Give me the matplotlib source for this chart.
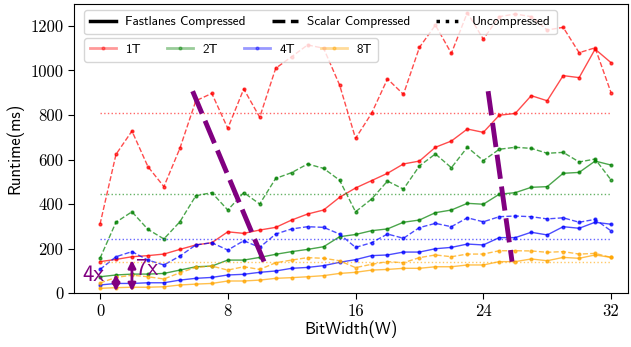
import numpy as np
import matplotlib
matplotlib.use("Agg")
import matplotlib.pyplot as plt
from matplotlib.lines import Line2D

plt.rcParams['font.family'] = ['cmss10', 'DejaVu Sans']
plt.rcParams['axes.formatter.use_mathtext'] = False

bitwidth = np.arange(33)
threads = ["1T", "2T", "4T", "8T"]
colors = ["red", "green", "blue", "orange"]

# runtime (ms) per bitwidth, Fastlanes compressed
fast = [
    [141, 151, 163, 168, 175, 196, 216, 226, 275, 268, 283, 295, 328, 355, 373, 430, 472,
     505, 538, 580, 593, 655, 683, 737, 722, 799, 807, 887, 864, 977, 968, 1096, 1035],
    [73, 81, 85, 85, 88, 103, 118, 121, 148, 148, 160, 174, 186, 196, 208, 253, 263,
     280, 288, 318, 328, 361, 373, 403, 399, 444, 451, 475, 478, 538, 542, 593, 575],
    [36, 43, 43, 46, 46, 58, 66, 70, 81, 84, 93, 99, 111, 115, 123, 138, 150,
     168, 171, 184, 184, 199, 205, 220, 216, 249, 249, 273, 261, 298, 291, 318, 309],
    [21, 24, 26, 26, 28, 36, 40, 43, 54, 54, 58, 66, 69, 73, 78, 88, 93,
     103, 106, 111, 111, 118, 118, 126, 126, 141, 141, 153, 145, 160, 156, 171, 160],
]
# scalar compressed
scalar = [
    [309, 623, 728, 568, 478, 650, 864, 897, 740, 917, 790, 1010, 1062, 1115, 1100, 935, 695,
     807, 962, 893, 1104, 1204, 1077, 1260, 1141, 1242, 1254, 1242, 1182, 1194, 1080, 1102, 900],
    [156, 318, 365, 286, 243, 320, 437, 451, 373, 451, 400, 515, 541, 580, 560, 507, 365,
     422, 503, 467, 571, 625, 563, 655, 595, 646, 655, 650, 628, 632, 589, 602, 508],
    [106, 163, 186, 148, 126, 166, 216, 226, 193, 235, 205, 265, 288, 298, 295, 265, 205,
     226, 265, 246, 294, 313, 298, 338, 320, 343, 346, 343, 333, 338, 318, 331, 279],
    [45, 70, 80, 73, 63, 91, 115, 121, 103, 118, 106, 136, 148, 159, 156, 145, 114,
     129, 141, 136, 159, 171, 163, 175, 175, 190, 190, 189, 183, 186, 175, 178, 160],
]
# uncompressed (constant)
uncompressed = [809, 444, 241, 139]

# purple guide lines (x0, y0, x1, y1)
guides = [(5.8, 907, 10.3, 136), (24.3, 907, 25.8, 141)]
# speedup arrows (x, y_low, y_high, label, label_x, label_y)
speedups = [(1, 8, 85, "4x", -0.4, 80), (2, 8, 148, "7x", 2.95, 110)]

fig = plt.figure(figsize=(6.31, 3.47), dpi=100)
ax = fig.add_axes([0.118, 0.1556, 0.877, 0.8336])

for i in range(4):
    ax.plot(bitwidth, fast[i], '-', color=colors[i], alpha=0.7, lw=1,
            marker='o', ms=2)
    ax.plot(bitwidth, scalar[i], '--', color=colors[i], alpha=0.7, lw=1,
            marker='o', ms=2)
    ax.plot([bitwidth[0], bitwidth[-1]], [uncompressed[i]] * 2, ':',
            color=colors[i], alpha=0.6, lw=1)

for x0, y0, x1, y1 in guides:
    ax.plot([x0, x1], [y0, y1], color='purple', lw=3.5,
            linestyle=(0, (5, 1.6)), zorder=5)

for x, ylo, yhi, lab, tx, ty in speedups:
    ax.annotate('', xy=(x, ylo), xytext=(x, yhi),
                arrowprops=dict(arrowstyle='<|-|>', color='purple', lw=2,
                                mutation_scale=11, shrinkA=0, shrinkB=0),
                zorder=6)
    ax.text(tx, ty, lab, color='purple', fontsize=16.5,
            ha='center', va='center', zorder=6)

ax.set_xlim(-1.6, 33.05)
ax.set_ylim(0, 1300)
ax.set_xticks([0, 8, 16, 24, 32])
ax.set_yticks(range(0, 1201, 200))
for lab in ax.get_xticklabels() + ax.get_yticklabels():
    lab.set_fontfamily('cmr10')
ax.tick_params(labelsize=12, length=4.5)
ax.set_xlabel("BitWidth(W)", fontsize=12, labelpad=1)
ax.set_ylabel("Runtime(ms)", fontsize=12, labelpad=5)

legend_kw = dict(loc='upper left', fontsize=9.5, handlelength=2.0,
                 handletextpad=0.7, columnspacing=1.95, borderaxespad=0,
                 borderpad=0.45)

style_handles = [Line2D([], [], color='black', lw=2.5, ls='-'),
                 Line2D([], [], color='black', lw=2.5, ls='--'),
                 Line2D([], [], color='black', lw=2.5, ls=':')]
style_labels = ["Fastlanes Compressed", "Scalar Compressed", "Uncompressed"]
leg1 = ax.legend(style_handles, style_labels, ncol=3,
                 bbox_to_anchor=(0.017, 0.978), **legend_kw)
ax.add_artist(leg1)

thread_handles = [Line2D([], [], color=c, lw=2, alpha=0.4, marker='o', ms=2,
                         markeredgecolor=c, markerfacecolor=c)
                  for c in colors]
ax.legend(thread_handles, threads, ncol=4,
          bbox_to_anchor=(0.017, 0.882), **legend_kw)

fig.savefig("out.png", dpi=100)
